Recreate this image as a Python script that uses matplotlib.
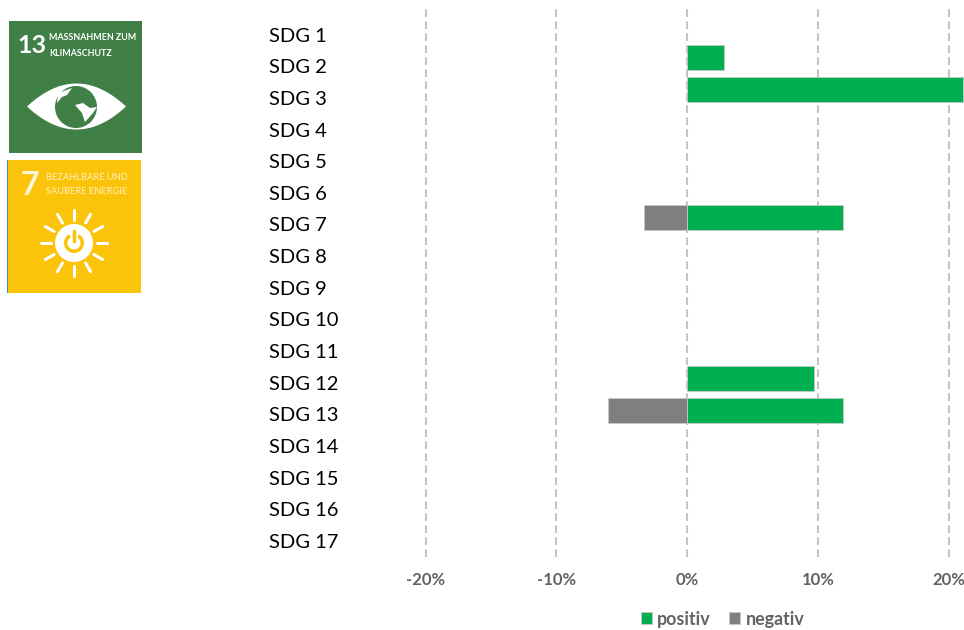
import numpy as np
import matplotlib
matplotlib.use('Agg')
import matplotlib.pyplot as plt
from matplotlib.patches import Circle, Polygon, Rectangle, Wedge

plt.rcParams['font.family'] = ['Lato', 'DejaVu Sans']

W, H = 964, 630

sdg_labels = ['SDG %d' % i for i in range(1, 18)]
positiv = [0, 2.83, 21.08, 0, 0, 0, 11.9, 0, 0, 0, 0, 9.67, 11.9, 0, 0, 0, 0]
negativ = [0, 0, 0, 0, 0, 0, -3.3, 0, 0, 0, 0, 0, -6.05, 0, 0, 0, 0]
x_ticks = [-20, -10, 0, 10, 20]
x_tick_labels = ['-20%', '-10%', '0%', '10%', '20%']

GREEN = '#00B050'
GREY = '#7F7F7F'
TEXT_GREY = '#636363'


def px_axes(fig, left, top, right, bottom):
    # axes position given in picture pixels
    return fig.add_axes([left / W, 1 - bottom / H, (right - left) / W, (bottom - top) / H])


def draw_chart(fig):
    ax = px_axes(fig, 269, 9, 964, 557)
    y = np.arange(len(sdg_labels))
    keep = [i for i in y if positiv[i] != 0]
    ax.barh(y[keep], [positiv[i] for i in keep], height=0.78, color=GREEN,
            edgecolor='#C8C8C8', linewidth=0.6, label='positiv', zorder=3)
    keep = [i for i in y if negativ[i] != 0]
    ax.barh(y[keep], [negativ[i] for i in keep], height=0.78, color=GREY,
            edgecolor='#C8C8C8', linewidth=0.6, label='negativ', zorder=3)

    # 13.08 px per percent, 0% sits at pixel 687.2
    ax.set_xlim((269 - 687.2) / 13.08, (964 - 687.2) / 13.08)
    # bars step 32.09 px, first row centred at pixel 25.4
    ax.set_ylim((557 - 25.4) / 32.09, (9 - 25.4) / 32.09)

    ax.set_xticks(x_ticks)
    ax.set_xticklabels(x_tick_labels, fontsize=12, fontweight='bold', color=TEXT_GREY)
    ax.set_yticks([])
    ax.tick_params(axis='x', length=0, pad=11)
    ax.grid(axis='x', color='#C4C4C4', linestyle=(0, (3.7, 2.06)), linewidth=1.5, zorder=0)
    for s in ax.spines.values():
        s.set_visible(False)
    ax.patch.set_alpha(0)

    # the row labels are spaced a little tighter than the bars
    lab = px_axes(fig, 269, 9, 964, 557)
    lab.set_ylim(16.51, -0.81)
    lab.set_yticks(y)
    lab.set_yticklabels(sdg_labels, fontsize=14.5, color='black', ha='left')
    lab.tick_params(axis='y', length=0, pad=0)
    lab.set_xticks([])
    for s in lab.spines.values():
        s.set_visible(False)
    lab.patch.set_alpha(0)

    handles, labels = ax.get_legend_handles_labels()
    fig.legend(handles, labels, loc='center', bbox_to_anchor=(722.5 / W, 1 - 619 / H),
               ncol=2, frameon=False, handlelength=0.62, handleheight=0.62,
               columnspacing=1.0, handletextpad=0.3, borderpad=0,
               prop={'size': 12.9, 'weight': 'bold'}, labelcolor=TEXT_GREY)


def draw_badge_13(fig):
    ax = px_axes(fig, 9, 21, 142, 153)
    ax.set_xlim(0, 133)
    ax.set_ylim(132, 0)
    ax.axis('off')
    col = '#407F46'
    ax.add_patch(Rectangle((0, 0), 133, 132, color=col, lw=0))
    ax.text(8, 24.5, '13', color='white', fontsize=18, fontweight='bold', va='center')
    ax.text(40, 17, 'MASSNAHMEN ZUM', color='white', fontsize=6.4, fontweight='bold', va='center')
    ax.text(40, 32, 'KLIMASCHUTZ', color='white', fontsize=6.4, fontweight='bold', va='center')

    # eye outline from two arcs
    t = np.linspace(-1, 1, 80)
    upper = 85.5 - 23 * (1 - t ** 2)
    lower = 85.5 + 23 * (1 - t ** 2)
    xs = 67.5 + 49.5 * t
    ax.add_patch(Polygon(np.r_[np.c_[xs, upper], np.c_[xs[::-1], lower[::-1]]], color='white', lw=0))
    ax.add_patch(Circle((67, 86), 21, color=col, lw=0))
    # land on the globe
    ax.add_patch(Polygon([(49, 72), (63, 67), (58, 74), (53, 76), (48, 82)], color='white', lw=0))
    ax.add_patch(Polygon([(66, 84), (74, 82), (81, 87), (88, 86), (84, 92), (76, 101), (73, 92)], color='white', lw=0))


def draw_badge_7(fig):
    ax = px_axes(fig, 7, 160, 141, 293)
    ax.set_xlim(0, 134)
    ax.set_ylim(133, 0)
    ax.axis('off')
    col = '#FCC30B'
    ax.add_patch(Rectangle((0, 0), 134, 133, color=col, lw=0))
    ax.add_patch(Rectangle((0, 0), 1, 133, color='#3C8DC5', lw=0))
    ax.text(14, 25.5, '7', color='#FFF6D8', fontsize=23, fontweight='bold', va='center')
    ax.text(39, 17, 'BEZAHLBARE UND', color='#FFF0C0', fontsize=6.7, va='center')
    ax.text(39, 32, 'SAUBERE ENERGIE', color='#FFF0C0', fontsize=6.7, va='center')

    cx, cy = 67, 83
    ax.add_patch(Circle((cx, cy), 19, color='white', lw=0))
    ax.add_patch(Wedge((cx, cy), 10, -60, 240, width=3.5, color=col, lw=0))
    ax.plot([cx, cx], [cy - 12, cy - 2], color=col, lw=2.5, solid_capstyle='round')
    for a in np.arange(0, 360, 30):
        r = np.radians(a)
        ax.plot([cx + 23 * np.cos(r), cx + 33 * np.cos(r)], [cy + 23 * np.sin(r), cy + 33 * np.sin(r)],
                color='white', lw=2.2, solid_capstyle='round')


def main():
    fig = plt.figure(figsize=(W / 100, H / 100), dpi=100)
    draw_chart(fig)
    draw_badge_13(fig)
    draw_badge_7(fig)
    fig.savefig('out.png', dpi=100)


if __name__ == "__main__":
    main()
